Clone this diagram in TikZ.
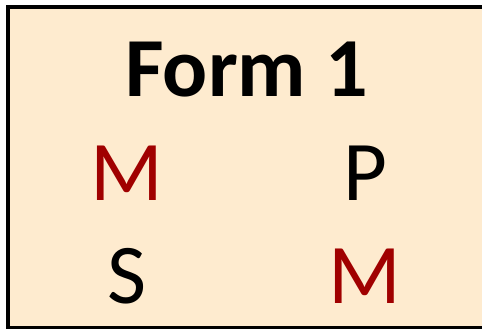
\documentclass[tikz,border=0pt]{standalone}
\usepackage{fontspec}
\setmainfont{Carlito}
\definecolor{peach}{RGB}{254,235,207}
\definecolor{darkred}{RGB}{160,0,0}
\begin{document}
\begin{tikzpicture}[x=1pt,y=1pt,
  letter/.style={anchor=base,inner sep=0pt,font=\fontsize{85}{85}\selectfont},
  title/.style={anchor=base,inner sep=0pt,font=\fontsize{84}{84}\selectfont\bfseries}]
\useasboundingbox (0,0) rectangle (482,329);
\clip (0,0) rectangle (482,329);
\fill[white] (0,0) rectangle (482,329);
\draw[line width=4pt,fill=peach] (8,1) rectangle (500,322);
\node[title] (t) at (246.5,232) {Form 1};
\node[letter,text=darkred] (m1) at (126.5,128) {M};
\node[letter] (p) at (365.5,128) {P};
\node[letter] (s) at (127,25) {S};
\node[letter,text=darkred] (m2) at (364.5,25) {M};
\end{tikzpicture}
\end{document}
